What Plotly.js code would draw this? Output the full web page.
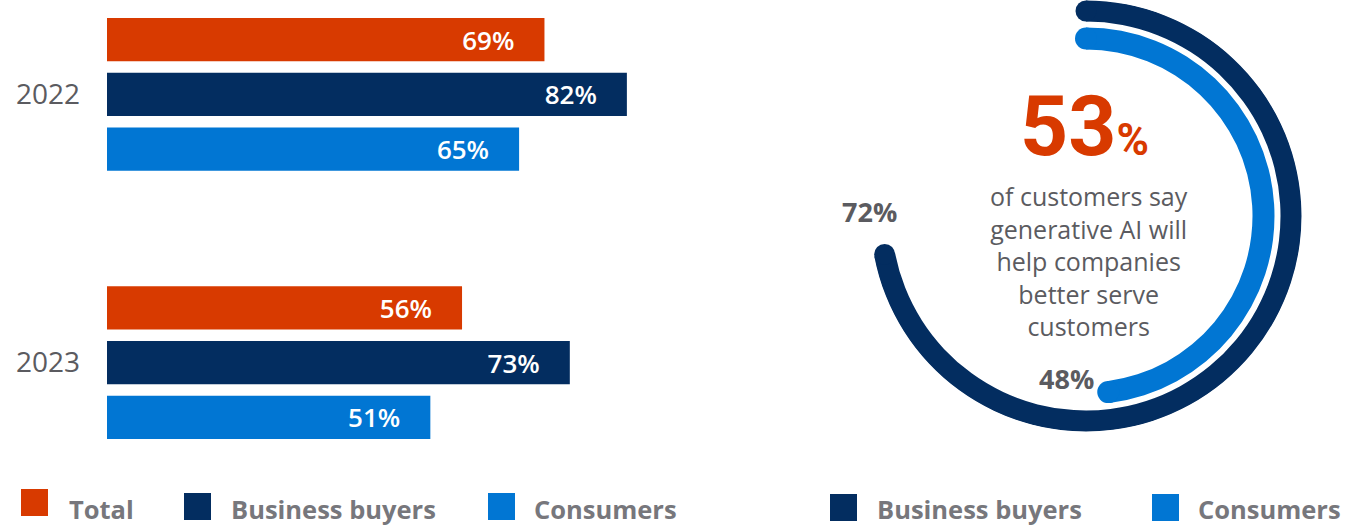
<!DOCTYPE html>
<html>
<head>
<meta charset="utf-8">
<script src="https://cdn.plot.ly/plotly-3.0.1.min.js"></script>
<style>html,body{margin:0;padding:0;background:#fff;}#chart{width:1369px;height:527px;}</style>
</head>
<body>
<div id="chart"></div>
<script>
// ---- data ----
const years = ['2022', '2023'];
const seriesNames = ['Total', 'Business buyers', 'Consumers'];
const totalVals = [69, 56];
const businessVals = [82, 73];
const consumerVals = [65, 51];

const ringNames = ['Business buyers', 'Consumers'];
const ringVals = [72, 48];

const headlineValue = 53;
const headlineText = ['of customers say', 'generative AI will', 'help companies', 'better serve', 'customers'];

// ---- styles ----
const W = 1369, H = 527;
const ORANGE = '#D83A00', NAVY = '#032D60', BLUE = '#0176D3';
const seriesColors = [ORANGE, NAVY, BLUE];
const ringColors = [NAVY, BLUE];
const FONT = 'Open Sans, Noto Sans, sans-serif';
const GRAY = '#5B5B60', LGRAY = '#77777C';
const px = v => v / W;
const py = v => (H - v) / H;

// ring geometry (radial units == pixels)
const ringMid = [205, 177.5];
const ringThick = [21, 22];

const nb = '\u00a0\u00a0\u00a0\u00a0';
const barSeries = [totalVals, businessVals, consumerVals];
const traces = barSeries.map((vals, i) => ({
  type: 'bar', orientation: 'h', name: seriesNames[i],
  y: years, x: vals,
  marker: {color: seriesColors[i], line: {width: 0}},
  texttemplate: '%{x}%' + nb,
  textposition: 'inside', insidetextanchor: 'end',
  textfont: {family: FONT, size: 26, color: '#ffffff', weight: 600},
  hoverinfo: 'skip', showlegend: false, cliponaxis: false
}));

ringVals.forEach((v, i) => {
  const deg = v * 3.6;
  traces.push({
    type: 'barpolar', subplot: 'polar', name: ringNames[i],
    r: [ringThick[i]], base: [ringMid[i] - ringThick[i] / 2],
    theta: [deg / 2], width: [deg],
    marker: {color: ringColors[i], line: {width: 0}},
    hoverinfo: 'skip', showlegend: false
  });
  traces.push({
    type: 'scatterpolar', subplot: 'polar', mode: 'markers',
    r: [ringMid[i], ringMid[i]], theta: [0, deg],
    marker: {color: ringColors[i], size: ringThick[i], line: {width: 0}},
    hoverinfo: 'skip', showlegend: false
  });
});

const annotations = [];
// ring value labels
const ringLabelPos = [[869, 212], [1066, 378]];
ringVals.forEach((v, i) => annotations.push({
  xref: 'paper', yref: 'paper', x: px(ringLabelPos[i][0]), y: py(ringLabelPos[i][1]),
  text: v + '%', showarrow: false, xanchor: 'center', yanchor: 'middle',
  font: {family: FONT, size: 27, color: GRAY, weight: 700}
}));
// headline
annotations.push({
  xref: 'paper', yref: 'paper', x: px(1084), y: py(127),
  text: '<span style="font-size:84px">' + headlineValue + '</span><span style="font-size:44px">%</span>',
  showarrow: false, xanchor: 'center', yanchor: 'middle',
  font: {family: 'Roboto, sans-serif', size: 84, color: ORANGE, weight: 700}
});
annotations.push({
  xref: 'paper', yref: 'paper', x: px(1089), y: py(261),
  text: headlineText.join('<br>'), showarrow: false, xanchor: 'center', yanchor: 'middle',
  align: 'center',
  font: {family: FONT, size: 25, color: GRAY}
});

// legends (manual squares + labels)
const shapes = [];
const leftLegend = [[21, 489, 67], [184, 493, 229], [488, 493, 532]];
seriesNames.forEach((n, i) => {
  const [x0, y0, tx] = leftLegend[i];
  shapes.push({type: 'rect', xref: 'paper', yref: 'paper', x0: px(x0), x1: px(x0 + 27), y0: py(y0 + 27), y1: py(y0), fillcolor: seriesColors[i], line: {width: 0}});
  annotations.push({xref: 'paper', yref: 'paper', x: px(tx), y: py(509), text: n, showarrow: false, xanchor: 'left', yanchor: 'middle', font: {family: FONT, size: 25.5, color: LGRAY, weight: 700}});
});
const rightLegend = [[830, 494, 875], [1152, 494, 1196]];
ringNames.forEach((n, i) => {
  const [x0, y0, tx] = rightLegend[i];
  shapes.push({type: 'rect', xref: 'paper', yref: 'paper', x0: px(x0), x1: px(x0 + 27), y0: py(y0 + 27), y1: py(y0), fillcolor: ringColors[i], line: {width: 0}});
  annotations.push({xref: 'paper', yref: 'paper', x: px(tx), y: py(509), text: n, showarrow: false, xanchor: 'left', yanchor: 'middle', font: {family: FONT, size: 25.5, color: LGRAY, weight: 700}});
});

const layout = {
  width: W, height: H,
  margin: {l: 0, r: 0, t: 0, b: 0, pad: 0},
  paper_bgcolor: '#ffffff', plot_bgcolor: 'rgba(0,0,0,0)',
  barmode: 'group', bargap: 0.388, bargroupgap: 0.211,
  showlegend: false,
  xaxis: {domain: [px(107), px(741)], range: [0, 100], visible: false, fixedrange: true},
  yaxis: {domain: [py(452), 1], range: [1.333, -0.352], type: 'category',
          showgrid: false, zeroline: false, showline: false, ticks: '',
          ticklabelstandoff: 26,
          tickfont: {family: FONT, size: 28, color: GRAY}},
  polar: {
    domain: {x: [px(870), px(1302)], y: [py(432), 1]},
    bgcolor: 'rgba(0,0,0,0)', hole: 0,
    radialaxis: {visible: false, range: [0, 216]},
    angularaxis: {visible: false, rotation: 90, direction: 'clockwise'}
  },
  shapes: shapes,
  annotations: annotations
};

Plotly.newPlot('chart', traces, layout, {staticPlot: true, displayModeBar: false});
</script>
</body>
</html>
